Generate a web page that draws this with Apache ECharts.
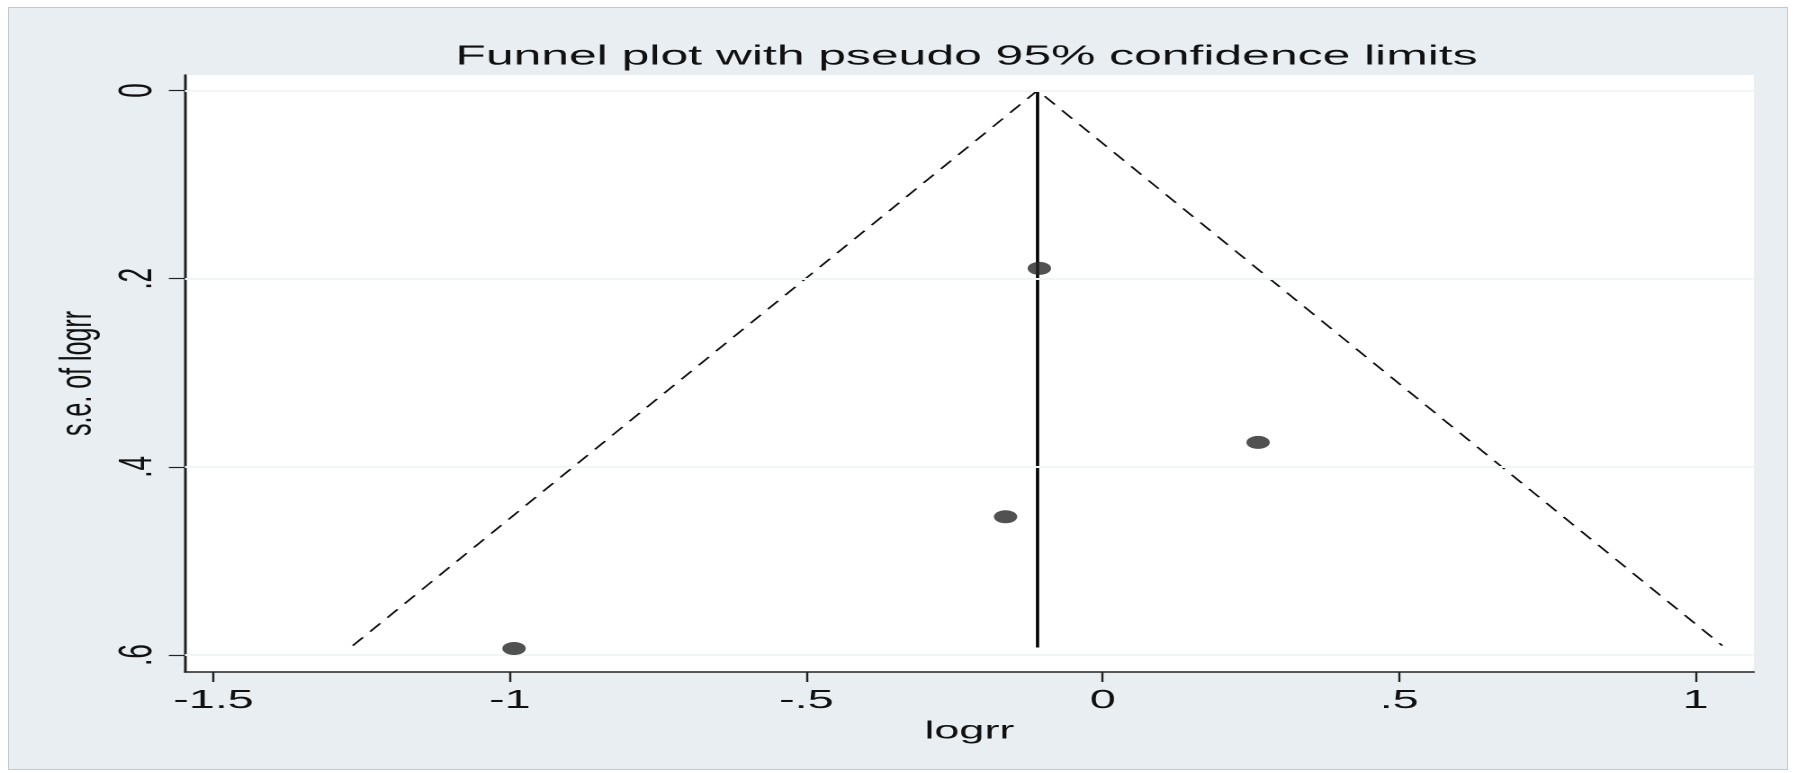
<!DOCTYPE html>
<html>
<head>
<meta charset="utf-8">
<title>Funnel plot</title>
<script src="https://cdn.jsdelivr.net/npm/echarts@6/dist/echarts.min.js"></script>
<style>
  html, body { margin: 0; padding: 0; background: #fff; overflow: hidden; }
  #frame {
    position: absolute; left: 8px; top: 7px; width: 1778px; height: 761px;
    background: #e8eef1; border: 1px solid #c3c9cc;
  }
  /* the source graph is stretched sideways, so the chart is drawn narrow and widened */
  #chart {
    position: absolute; left: 0; top: 0; width: 999px; height: 773px;
    transform: scaleX(1.7998); transform-origin: 0 0;
  }
</style>
</head>
<body>
<div id="frame"></div>
<div id="chart"></div>
<script>
// studies
const logrr = [-0.107, 0.262, -0.164, -0.993];
const seLogrr = [0.189, 0.374, 0.453, 0.593];

// pooled estimate line
const pooledX = [-0.11, -0.11];
const pooledSe = [0, 0.592];

// pseudo 95% limits
const limitsX = [-1.265, -0.11, 1.045];
const limitsSe = [0.59, 0, 0.59];

// axes
const xTicks = [-1.5, -1, -0.5, 0, 0.5, 1];
const xTickLabels = ['-1.5', '-1', '-.5', '0', '.5', '1'];
const seTicks = [0, 0.2, 0.4, 0.6];
const seTickLabels = ['0', '.2', '.4', '.6'];

const pick = (ticks, labels) => (v) => {
  const i = ticks.findIndex((t) => Math.abs(t - v) < 1e-9);
  return i < 0 ? '' : labels[i];
};

const font = 'Liberation Sans, Arial, sans-serif';
const chart = echarts.init(document.getElementById('chart'), null, { devicePixelRatio: 2 });

chart.setOption({
  animation: false,
  backgroundColor: 'transparent',
  title: {
    text: 'Funnel plot with pseudo 95% confidence limits',
    left: 532,
    top: 38,
    textAlign: 'center',
    textStyle: { fontFamily: font, fontSize: 27.7, fontWeight: 'normal', color: '#111' }
  },
  grid: {
    left: 102.8, right: 24.6, top: 75, bottom: 101,
    show: true, backgroundColor: '#fff', borderWidth: 0,
    outerBoundsMode: 'none'
  },
  xAxis: {
    type: 'value',
    min: -1.548, max: 1.098,
    name: 'logrr',
    nameLocation: 'middle',
    nameGap: 43,
    nameTextStyle: { fontFamily: font, fontSize: 25, color: '#111' },
    axisLine: { show: true, onZero: false, lineStyle: { color: '#222', width: 1.5 } },
    axisTick: { show: true, length: 10, customValues: xTicks, lineStyle: { color: '#222', width: 1.2 } },
    axisLabel: {
      customValues: xTicks, margin: 16,
      formatter: pick(xTicks, xTickLabels),
      fontFamily: font, fontSize: 26, color: '#111'
    },
    splitLine: { show: false }
  },
  yAxis: {
    type: 'value',
    inverse: true,
    min: -0.0165, max: 0.618,
    name: 's.e. of logrr',
    nameLocation: 'middle',
    nameGap: 31,
    nameRotate: 90,
    nameTextStyle: { fontFamily: font, fontSize: 25, color: '#111' },
    axisLine: { show: true, onZero: false, lineStyle: { color: '#222', width: 1.5 } },
    axisTick: { show: true, length: 9, customValues: seTicks, lineStyle: { color: '#222', width: 1.2 } },
    axisLabel: {
      customValues: seTicks, margin: 13, rotate: 90,
      formatter: pick(seTicks, seTickLabels),
      fontFamily: font, fontSize: 26, color: '#111'
    },
    splitLine: { show: false }
  },
  series: [
    {
      name: 'limits',
      type: 'line',
      data: limitsX.map((x, i) => [x, limitsSe[i]]),
      symbol: 'none',
      lineStyle: { color: '#111', width: 1.3, type: [10, 7] },
      silent: true,
      markLine: {
        silent: true,
        symbol: 'none',
        label: { show: false },
        lineStyle: { color: '#f2f5f6', width: 2, type: 'solid' },
        data: seTicks.map((v) => ({ yAxis: v }))
      },
      z: 3
    },
    {
      name: 'pooled',
      type: 'line',
      data: pooledX.map((x, i) => [x, pooledSe[i]]),
      symbol: 'none',
      lineStyle: { color: '#000', width: 1.8 },
      silent: true,
      z: 4
    },
    {
      name: 'studies',
      type: 'scatter',
      data: logrr.map((x, i) => [x, seLogrr[i]]),
      symbol: 'circle',
      symbolSize: 13,
      itemStyle: { color: '#262626' },
      z: 5
    }
  ]
});
</script>
</body>
</html>
